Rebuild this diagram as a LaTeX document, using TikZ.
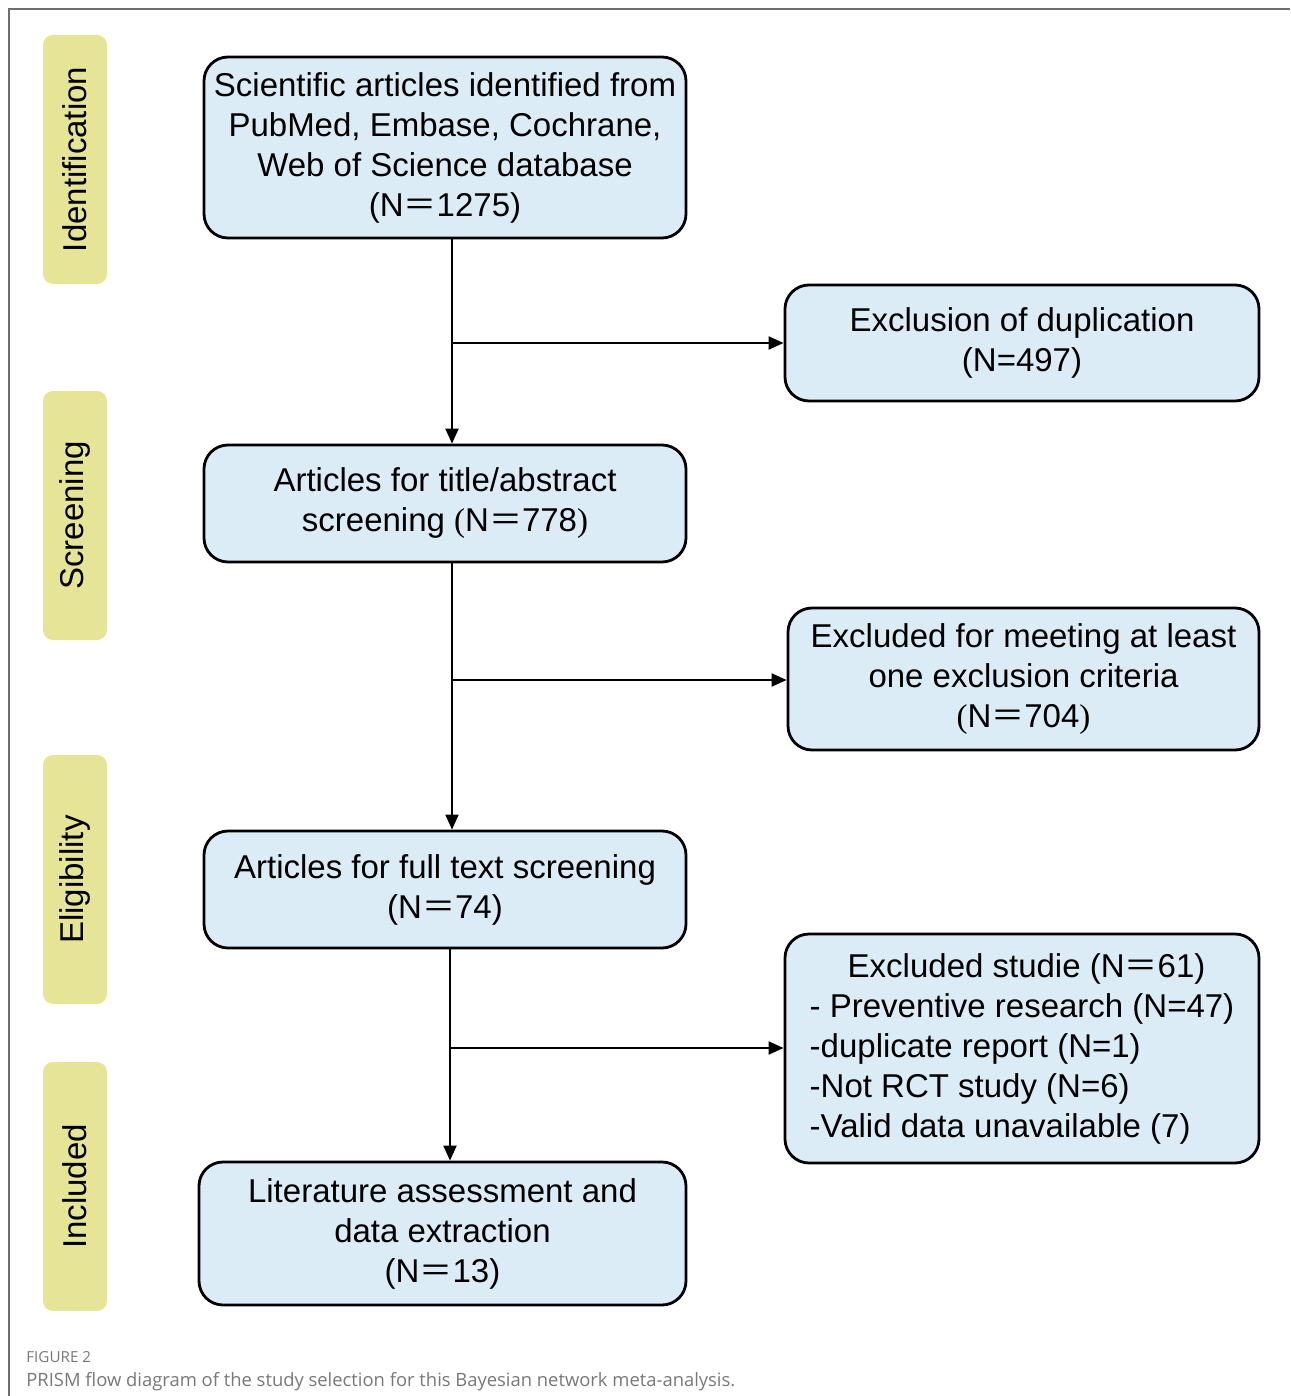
\documentclass[tikz,border=0pt]{standalone}
\usepackage{fontspec}
\setmainfont{Liberation Sans}
\newfontfamily\cjk{Noto Sans CJK SC}
\newfontfamily\serifp{Liberation Serif}
\newfontfamily\capfont{Open Sans}
\usetikzlibrary{arrows.meta}
\definecolor{stageyellow}{RGB}{230,228,150}
\definecolor{boxblue}{RGB}{220,236,247}
\definecolor{framegray}{RGB}{110,110,110}
\definecolor{captiongray}{RGB}{120,120,120}
\newcommand{\feq}{{\cjk ＝}}
\newcommand{\lp}{{\serifp(}}
\newcommand{\rp}{{\serifp)}}

\begin{document}
\begin{tikzpicture}[x=0.5pt,y=-0.5pt,
        stage/.style={fill=stageyellow,rounded corners=5pt,rotate=90,minimum width=124.5pt,minimum height=32pt,inner sep=0pt},
        flowbox/.style={draw,fill=boxblue,line width=1.4pt,rounded corners=12pt,align=center,inner sep=0pt},
        arr/.style={line width=1pt,-{Triangle[length=7.5pt,width=6.5pt]}},
        font=\fontsize{16.5}{20}\selectfont]
        \useasboundingbox (0,0) rectangle (1290,1396);
        \draw[framegray,line width=0.6pt] (1290,9) -- (9,9) -- (9,1396);

        \node[stage] (identification) at (75,159.5) {Identification};
        \node[stage] (screening) at (75,515.5) {Screening};
        \node[stage] (eligibility) at (75,879.5) {Eligibility};
        \node[stage] (included) at (75,1186.5) {Included};

        \node[flowbox,minimum width=241pt,minimum height=90.5pt] (identified) at (445,147.5) {\raisebox{-1.5pt}{}Scientific articles identified from\\PubMed, Embase, Cochrane,\\Web of Science database\\(N\feq1275)};
        \node[flowbox,minimum width=241pt,minimum height=58.5pt] (titlescreen) at (445,503.5) {Articles for title/abstract\\screening \lp N\feq778\rp};
        \node[flowbox,minimum width=241pt,minimum height=58.5pt] (fulltext) at (445,889.5) {Articles for full text screening\\(N\feq74)};
        \node[flowbox,minimum width=243.5pt,minimum height=71.5pt] (extraction) at (442.5,1233.5) {Literature assessment and\\data extraction\\(N\feq13)};

        \node[flowbox,minimum width=237pt,minimum height=58pt] (duplicates) at (1022,343) {Exclusion of duplication\\(N=497)};
        \node[flowbox,minimum width=235.5pt,minimum height=71pt] (criteria) at (1023.5,679) {Excluded for meeting at least\\one exclusion criteria\\\lp N\feq704\rp};
        \node[flowbox,minimum width=237pt,minimum height=114.5pt,align=left] (excluded) at (1022,1048.5) {\hspace*{19pt}Excluded studie (N\feq61)\\- Preventive research (N=47)\\-duplicate report (N=1)\\-Not RCT study (N=6)\\-Valid data unavailable (7)};

        \coordinate (split1) at (452,343);
        \coordinate (split2) at (452,680);
        \coordinate (split3) at (450,1048);
        \draw[arr] (identified.south -| split1) -- (titlescreen.north -| split1);
        \draw[arr] (split1) -- (duplicates.west |- split1);
        \draw[arr] (titlescreen.south -| split2) -- (fulltext.north -| split2);
        \draw[arr] (split2) -- (criteria.west |- split2);
        \draw[arr] (fulltext.south -| split3) -- (extraction.north -| split3);
        \draw[arr] (split3) -- (excluded.west |- split3);

        \node[anchor=base west,inner sep=0pt,text=captiongray,font=\capfont\fontsize{7.6}{8}\selectfont] (figlabel) at (26,1362) {FIGURE 2};
        \node[anchor=base west,inner sep=0pt,text=captiongray,font=\capfont\fontsize{9.2}{10}\selectfont] (caption) at (26,1386) {PRISM flow diagram of the study selection for this Bayesian network meta-analysis.};
\end{tikzpicture}
\end{document}
